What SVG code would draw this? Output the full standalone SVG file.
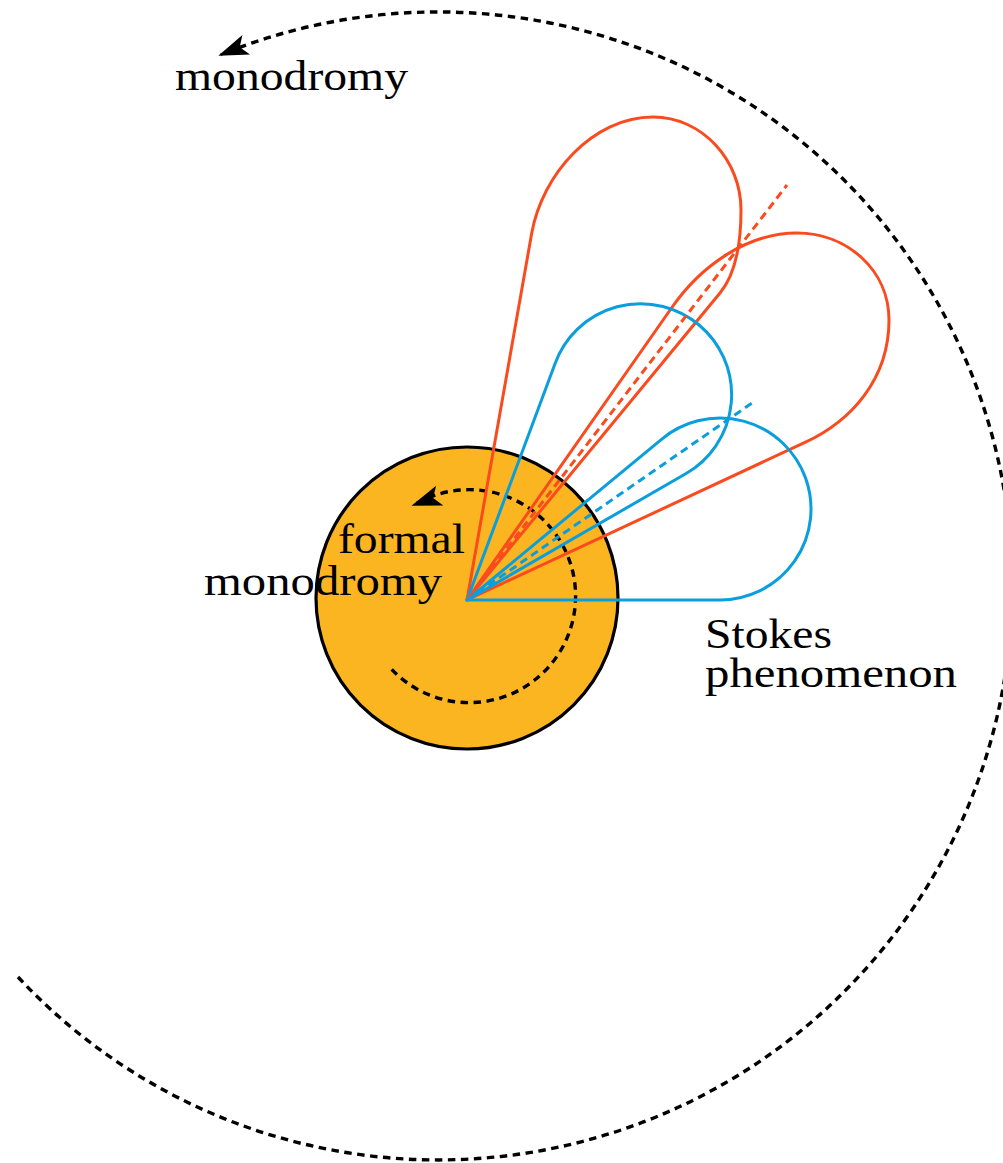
<svg xmlns="http://www.w3.org/2000/svg" xmlns:xlink="http://www.w3.org/1999/xlink" width="1003" height="1163" viewBox="0 0 1003 1163">
  <style>
    .bk { fill: none; stroke: #000; stroke-width: 3.4; stroke-dasharray: 7.5 5.5; }
    .red { fill: none; stroke: #FA4B1F; stroke-width: 3; stroke-linejoin: round; }
    .blue { fill: none; stroke: #0A9FDC; stroke-width: 3; stroke-linejoin: round; }
    .dash { stroke-dasharray: 8 5; }
    .lbl { font-family: "Liberation Serif", "DejaVu Serif", serif; font-size: 43px; fill: #000; }
  </style>
  <defs>
    <path id="stealth" d="M0,0 L-30,-10.5 L-23,0 L-30,10.5 Z" fill="#000"/>
    <path id="bluePetal" d="M467,600 L720,600 A91,91 0 1 0 661.51,439.29 Z"/>
  </defs>

  <rect width="1003" height="1163" fill="#fff"/>

  <g id="monodromy-loop">
    <path class="bk" d="M18,977 A574,574 0 1 0 221,54.6"/>
    <use xlink:href="#stealth" transform="translate(218.3,55.7) rotate(158.5)"/>
  </g>

  <g id="formal-disk">
    <circle cx="467" cy="598" r="151" fill="#FBB520" stroke="#000" stroke-width="3.2"/>
    <path class="bk" d="M391.7,669.3 A106.5,106.5 0 1 0 414,505"/>
    <use xlink:href="#stealth" transform="translate(411.5,505.8) rotate(160)"/>
  </g>

  <g id="stokes-petals">
    <path id="red-petal-1" class="red" d="M467,600 L720,293 C735.9,273.7 741,245 741,210 C741,160 702,117 653,117 C593,117 542.1,174.2 531.7,233.3 Z"/>
    <path id="red-petal-2" class="red" d="M467,600 L805,442.4 C850.3,421.3 889,380 889,320 C889,270 847,233 797,233 C747,233 700.9,266 672.2,307 Z"/>
    <use id="blue-petal-1" class="blue" xlink:href="#bluePetal"/>
    <use id="blue-petal-2" class="blue" xlink:href="#bluePetal" transform="rotate(-30 467 600)"/>
    <path id="red-axis" class="red dash" d="M467,600 L787,185"/>
    <path id="blue-axis" class="blue dash" d="M467,600 L755,401"/>
  </g>

  <g id="labels">
    <text class="lbl" x="175" y="90" textLength="233" lengthAdjust="spacingAndGlyphs">monodromy</text>
    <text class="lbl" x="338" y="553" textLength="127" lengthAdjust="spacingAndGlyphs">formal</text>
    <text class="lbl" x="204" y="595" textLength="238" lengthAdjust="spacingAndGlyphs">monodromy</text>
    <text class="lbl" x="705" y="648" textLength="127" lengthAdjust="spacingAndGlyphs">Stokes</text>
    <text class="lbl" x="705" y="687" textLength="252" lengthAdjust="spacingAndGlyphs">phenomenon</text>
  </g>
</svg>
